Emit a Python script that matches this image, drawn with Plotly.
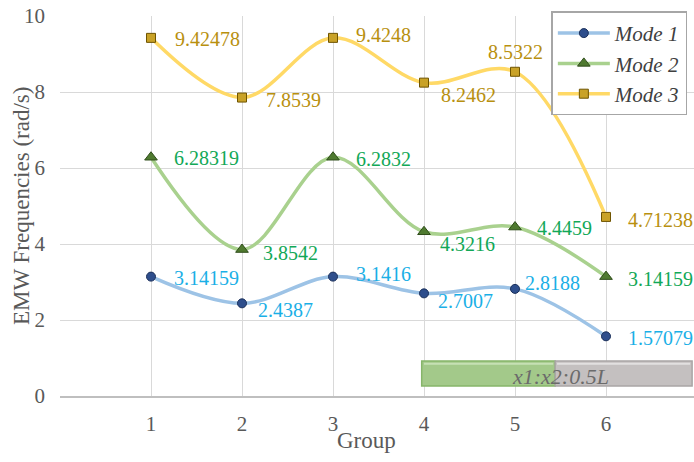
import plotly.graph_objects as go

# Group index and the three modal frequencies (rad/s)
groups = [1, 2, 3, 4, 5, 6]
mode1 = [3.14159, 2.4387, 3.1416, 2.7007, 2.8188, 1.57079]
mode2 = [6.28319, 3.8542, 6.2832, 4.3216, 4.4459, 3.14159]
mode3 = [9.42478, 7.8539, 9.4248, 8.2462, 8.5322, 4.71238]
mode1_text = ["3.14159", "2.4387", "3.1416", "2.7007", "2.8188", "1.57079"]
mode2_text = ["6.28319", "3.8542", "6.2832", "4.3216", "4.4459", "3.14159"]
mode3_text = ["9.42478", "7.8539", "9.4248", "8.2462", "8.5322", "4.71238"]
y_ticks = [0, 2, 4, 6, 8, 10]

SERIF = "'Liberation Serif', 'Times New Roman', serif"
GRID = "#D9D9D9"
TICK_GRAY = "#595959"

series = [
    dict(name="Mode 1", y=mode1, text=mode1_text, line="#9DC3E6", label="#1AAFE6",
         marker=dict(symbol="circle", size=9, color="#2E4E8C",
                     line=dict(color="#1A2F5A", width=1))),
    dict(name="Mode 2", y=mode2, text=mode2_text, line="#A9D18E", label="#12A857",
         marker=dict(symbol="triangle-up", size=11, color="#4F7A30",
                     line=dict(color="#2F4D1A", width=1))),
    dict(name="Mode 3", y=mode3, text=mode3_text, line="#FFD966", label="#B8900F",
         marker=dict(symbol="square", size=9, color="#C9A227",
                     line=dict(color="#6F5400", width=1))),
]

# label placement offsets (px) relative to each point: (dx to left edge, dy down)
offsets = [
    [(21, 1), (14, 7), (21, -3), (12, 8), (8, -6), (20, 2)],
    [(21, 1), (19, 3), (21, 2), (14, 12), (20, 1), (20, 2)],
    [(22, 1), (22, 2), (21, -3), (15, 12), (None, -20), (20, 3)],
]

fig = go.Figure()
annotations = []
for s, offs in zip(series, offsets):
    fig.add_trace(go.Scatter(
        x=groups, y=s["y"], name=s["name"], mode="lines+markers",
        line=dict(color=s["line"], width=3.5, shape="spline", smoothing=1.0),
        marker=s["marker"],
    ))
    for gx, gy, txt, (dx, dy) in zip(groups, s["y"], s["text"], offs):
        if dx is None:
            annotations.append(dict(x=gx, y=gy, text=txt, showarrow=False,
                                    xanchor="center", yanchor="middle",
                                    yshift=-dy, font=dict(family=SERIF, size=20,
                                                          color=s["label"])))
        else:
            annotations.append(dict(x=gx, y=gy, text=txt, showarrow=False,
                                    xanchor="left", yanchor="middle",
                                    xshift=dx, yshift=-dy,
                                    font=dict(family=SERIF, size=20,
                                              color=s["label"])))

# axis titles
annotations.append(dict(x=0.483, y=-0.118, xref="paper", yref="paper",
                        text="Group", showarrow=False,
                        xanchor="center", yanchor="middle",
                        font=dict(family=SERIF, size=23, color=TICK_GRAY)))
annotations.append(dict(x=-0.0615, y=0.5, xref="paper", yref="paper",
                        text="EMW Frequencies (rad/s)", showarrow=False,
                        textangle=-90, xanchor="center", yanchor="middle",
                        font=dict(family=SERIF, size=23, color=TICK_GRAY)))

# ratio badge in the lower right corner
annotations.append(dict(x=0.79, y=0.052, xref="paper", yref="paper",
                        text="x1:x2:0.5L", showarrow=False,
                        xanchor="center", yanchor="middle",
                        font=dict(family=SERIF, size=22, color="#6B6B6B",
                                  style="italic")))

shapes = [
    dict(type="rect", xref="paper", yref="paper", x0=0.5705, x1=0.781,
         y0=0.026, y1=0.092, fillcolor="#A3C98A",
         line=dict(color="#86B56A", width=1.5), layer="above"),
    dict(type="rect", xref="paper", yref="paper", x0=0.781, x1=0.997,
         y0=0.026, y1=0.092, fillcolor="#C4C0C0",
         line=dict(color="#A9A5A5", width=1.5), layer="above"),
    dict(type="line", xref="paper", yref="paper", x0=0.574, x1=0.778,
         y0=0.085, y1=0.085, line=dict(color="#C6E0B4", width=2), layer="above"),
    dict(type="line", xref="paper", yref="paper", x0=0.784, x1=0.994,
         y0=0.085, y1=0.085, line=dict(color="#E2E0E0", width=2), layer="above"),
]

fig.update_layout(
    width=694, height=462,
    margin=dict(l=60, r=0, t=16, b=66),
    paper_bgcolor="white", plot_bgcolor="white",
    font=dict(family=SERIF, color=TICK_GRAY),
    annotations=annotations,
    shapes=shapes,
    legend=dict(
        x=0.775, y=1.012, xanchor="left", yanchor="top",
        bgcolor="white", bordercolor="#A6A6A6", borderwidth=1.5,
        font=dict(family=SERIF, size=21, color="#404040", style="italic"),
        itemwidth=52, tracegroupgap=0,
    ),
    xaxis=dict(
        range=[0, 634 / 91], tickvals=[0] + groups,
        ticktext=[""] + [str(g) for g in groups],
        showgrid=True, gridcolor=GRID, gridwidth=1,
        showline=True, linecolor="#BFBFBF", linewidth=1.5,
        zeroline=False, ticks="", ticklabelstandoff=8,
        tickfont=dict(family=SERIF, size=21, color=TICK_GRAY),
    ),
    yaxis=dict(
        range=[0, 10], tickvals=y_ticks,
        showgrid=True, gridcolor=GRID, gridwidth=1,
        zeroline=False, showline=False, ticks="", ticklabelstandoff=14,
        tickfont=dict(family=SERIF, size=21, color=TICK_GRAY),
    ),
)

fig.write_html("out.html")
